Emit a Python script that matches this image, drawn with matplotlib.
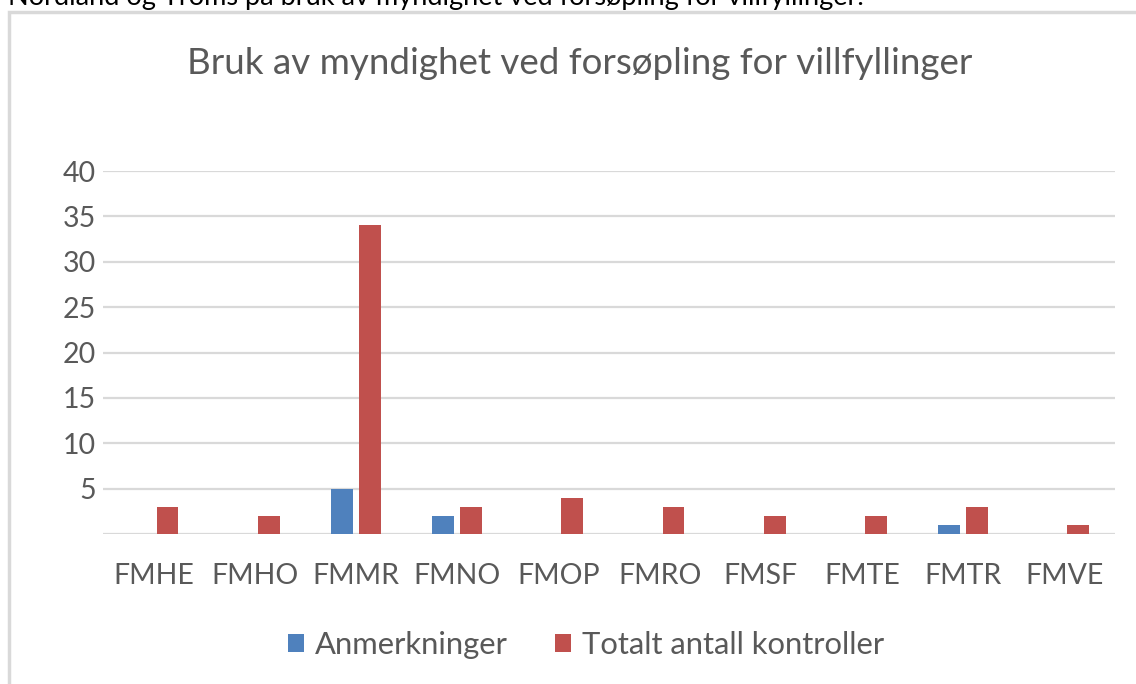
import matplotlib
matplotlib.use("Agg")
import matplotlib.pyplot as plt
import numpy as np
from matplotlib.patches import Rectangle

categories = ["FMHE", "FMHO", "FMMR", "FMNO", "FMOP", "FMRO", "FMSF", "FMTE", "FMTR", "FMVE"]
anmerkninger = [0, 0, 5, 2, 0, 0, 0, 0, 1, 0]
totalt = [3, 2, 34, 3, 4, 3, 2, 2, 3, 1]
yticks = [5, 10, 15, 20, 25, 30, 35, 40]
title = "Bruk av myndighet ved forsøpling for villfyllinger"
heading = "Nordland og Troms på bruk av myndighet ved forsøpling for villfyllinger."

plt.rcParams['font.family'] = ['Lato', 'DejaVu Sans']
gray = "#595959"
blue = "#4F81BD"
red = "#C0504D"

fig = plt.figure(figsize=(11.36, 6.84), dpi=100)
W, H = 1136, 684

# outer chart frame
fig.patches.append(Rectangle((9 / W, -0.1), 1.2, 1.1 - 12 / H, transform=fig.transFigure,
                             fill=False, edgecolor="#D9D9D9", linewidth=2.5))
fig.text(8 / W, 1 - 5 / H, heading, fontsize=19.5, color="black", ha="left", va="baseline")

ax = fig.add_axes([103 / W, 1 - 534 / H, (1115 - 103) / W, (534 - 171) / H])
x = np.arange(len(categories))
bw = 0.215
gap = 0.03
ax.bar(x - bw / 2 - gap, anmerkninger, width=bw, color=blue, label="Anmerkninger", zorder=3)
ax.bar(x + bw / 2 + gap, totalt, width=bw, color=red, label="Totalt antall kontroller", zorder=3)

ax.set_xlim(-0.5, len(categories) - 0.5)
ax.set_ylim(0, 40)
ax.set_yticks([0] + yticks)
ax.set_yticklabels([""] + [str(v) for v in yticks])
ax.grid(axis="y", color="#D9D9D9", linewidth=1.6, zorder=0)
for s in ax.spines.values():
    s.set_visible(False)
ax.tick_params(axis="both", length=0, labelsize=20.5, labelcolor=gray)
ax.tick_params(axis="y", pad=5)
ax.tick_params(axis="x", pad=21)
ax.set_xticks(x)
ax.set_xticklabels(categories)

fig.text(580 / W, 1 - 63 / H, title, fontsize=26.5, color=gray, ha="center", va="center")

leg = fig.legend(loc="center", bbox_to_anchor=(586 / W, 1 - 645 / H), ncol=2, frameon=False,
                 fontsize=22.3, labelcolor=gray, handlelength=0.52, handleheight=0.55,
                 handletextpad=0.36, columnspacing=1.5)

fig.savefig("out.png", dpi=100)
